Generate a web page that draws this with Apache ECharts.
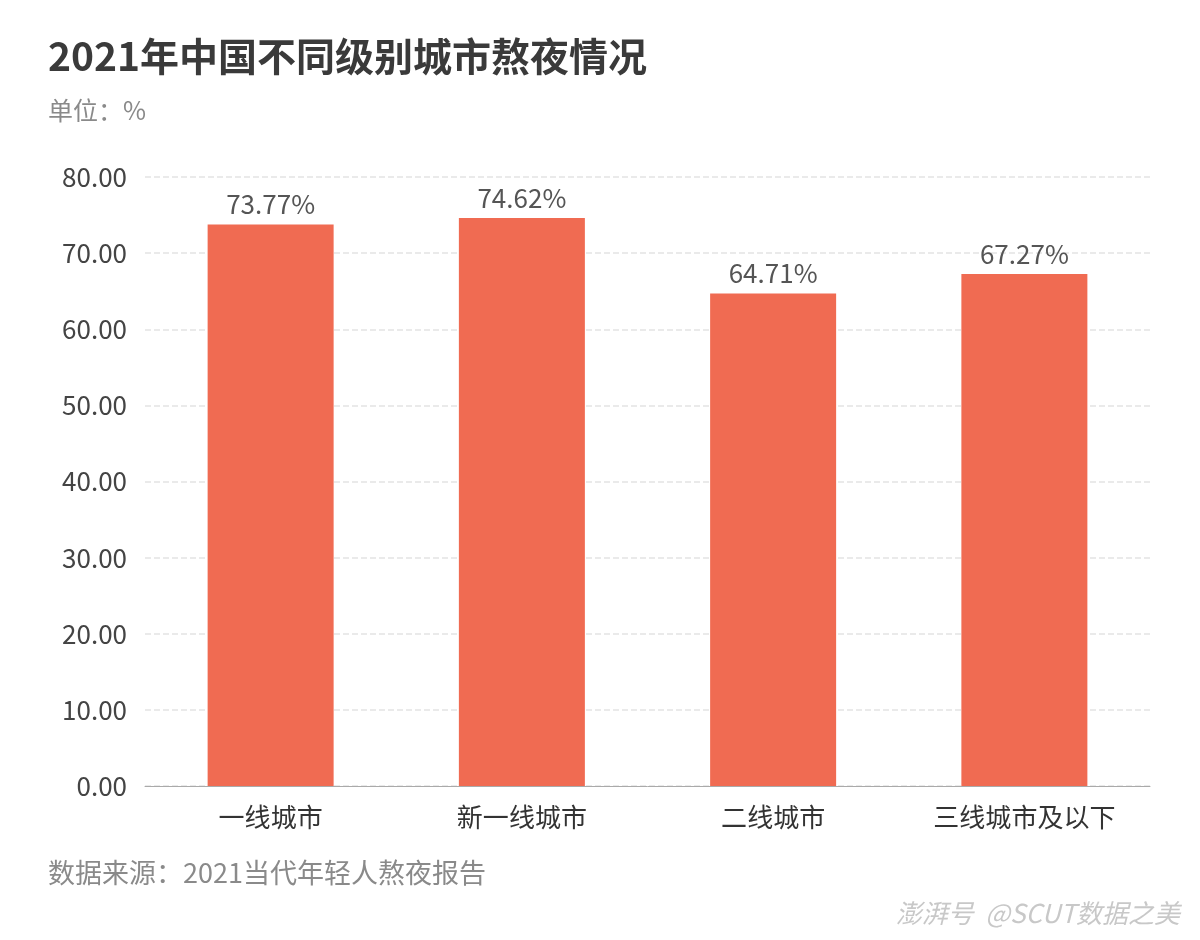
<!DOCTYPE html>
<html>
<head>
<meta charset="utf-8">
<script src="https://cdn.jsdelivr.net/npm/echarts@6/dist/echarts.min.js"></script>
<style>
html, body { margin: 0; padding: 0; background: #fff; }
#main { width: 1200px; height: 940px; }
</style>
</head>
<body>
<div id="main"></div>
<script>
var categories = ['一线城市', '新一线城市', '二线城市', '三线城市及以下'];
var values = [73.77, 74.62, 64.71, 67.27];

var font = '"Noto Sans CJK SC", "Noto Sans", sans-serif';
var myChart = echarts.init(document.getElementById('main'));
var option = {
	backgroundColor: '#fff',
	textStyle: { fontFamily: font },
	graphic: [
		{ type: 'text', left: 48, top: 37, style: { text: '2021年中国不同级别城市熬夜情况', font: 'bold 39px ' + font, fill: '#3a3a3a' } },
		{ type: 'text', left: 48, top: 98, style: { text: '单位：%', font: '25px ' + font, fill: '#8a8a8a' } },
		{ type: 'text', left: 48, top: 859, style: { text: '数据来源：2021当代年轻人熬夜报告', font: '27px ' + font, fill: '#8a8a8a' } },
		{ type: 'text', right: 20, top: 900, style: { text: '澎湃号  @SCUT数据之美', font: 'italic 26px ' + font, fill: '#c8c8c8' } }
	],
	grid: { left: 145, right: 50, top: 177, bottom: 154 },
	xAxis: {
		type: 'category',
		data: categories,
		axisLine: { lineStyle: { color: '#aaa' } },
		axisTick: { show: false },
		axisLabel: { fontSize: 26, color: '#333', margin: 18 }
	},
	yAxis: {
		type: 'value',
		min: 0, max: 80, interval: 10,
		axisLabel: { fontSize: 26, color: '#444', margin: 18, formatter: function(v) { return v.toFixed(2); } },
		splitLine: { lineStyle: { type: 'dashed', color: '#e4e4e4', width: 1.5 } },
		axisLine: { show: false },
		axisTick: { show: false }
	},
	series: [{
		type: 'bar',
		data: values,
		barWidth: 126,
		itemStyle: { color: '#f06b52' },
		label: {
			show: true, position: 'top', fontSize: 26, color: '#555', distance: 7,
			formatter: function(p) { return p.value.toFixed(2) + '%'; }
		}
	}]
};
option && myChart.setOption(option);
</script>
</body>
</html>
